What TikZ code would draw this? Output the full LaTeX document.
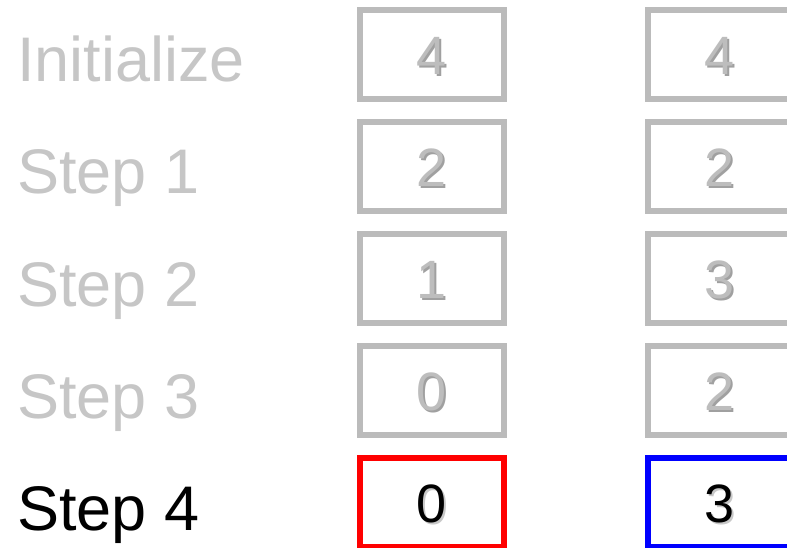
\documentclass[tikz,border=0pt]{standalone}
\usepackage{fontspec}
\setmainfont{Liberation Sans}
\definecolor{lblgray}{HTML}{C6C6C6}
\definecolor{boxgray}{HTML}{BBBBBB}
\definecolor{diggray}{HTML}{BDBDBD}
\definecolor{shgray}{HTML}{A0A0A0}
\definecolor{shlight}{HTML}{C8C8C8}
\newcommand{\shdig}[3]{\rlap{\kern2pt\raisebox{-2pt}{\textcolor{#2}{#1}}}\textcolor{#3}{#1}}
\begin{document}
\begin{tikzpicture}[x=1pt,y=-1pt,
  cell/.style={draw=boxgray,line width=6pt,minimum width=144pt,minimum height=89pt,inner sep=0pt},
  lbl/.style={anchor=base west,inner sep=0pt,font=\fontsize{63}{63}\selectfont},
  dig/.style={anchor=base,inner sep=0pt,font=\fontsize{54}{54}\selectfont}]
\useasboundingbox (0,0) rectangle (787,548);
% labels
\node[lbl,text=lblgray] (l0) at (17,82) {Initialize};
\node[lbl,text=lblgray] (l1) at (17,194) {Step 1};
\node[lbl,text=lblgray] (l2) at (17,306) {Step 2};
\node[lbl,text=lblgray] (l3) at (17,418) {Step 3};
\node[lbl,text=black] (l4) at (17,530) {Step 4};
% boxes
\foreach \k/\a/\b in {0/4/4,1/2/2,2/1/3,3/0/2}{
  \pgfmathsetmacro{\yc}{54.5+112*\k}
  \node[cell] (a\k) at (432,\yc) {};
  \node[cell] (b\k) at (720,\yc) {};
  \node[dig] (ad\k) at (a\k.center) [yshift=-20pt] {\shdig{\a}{shgray}{diggray}};
  \node[dig] (bd\k) at (b\k.center) [yshift=-20pt] {\shdig{\b}{shgray}{diggray}};
}
\node[cell,draw=red] (a4) at (432,502.5) {};
\node[cell,draw=blue] (b4) at (720,502.5) {};
\node[dig] (ad4) at (a4.center) [yshift=-20pt] {\shdig{0}{shlight}{black}};
\node[dig] (bd4) at (b4.center) [yshift=-20pt] {\shdig{3}{shlight}{black}};
\end{tikzpicture}
\end{document}
